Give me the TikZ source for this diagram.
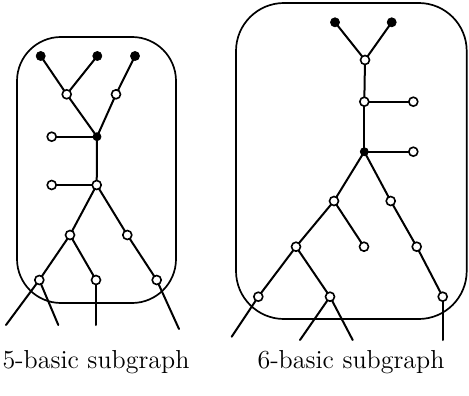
\documentclass[tikz,border=0pt]{standalone}
\usepackage{tkz-euclide}
\usetikzlibrary{calc}

\begin{document}
\begin{tikzpicture}[x=0.5pt,y=-0.5pt]
\tkzSetUpLine[line width=1pt,color=black]
\useasboundingbox (0,0) rectangle (469,395);

% 5-basic subgraph
\tkzDefPoints{40.7/56/U1,97.3/56/U2,135/56/U3,66.7/94.3/U4,116/94.3/U5,
  97/136.7/U6,51.7/136.7/U7,96.7/185/U8,51.7/185/U9,70/235/U10,
  127.3/235/U11,39.3/280/U12,96/280/U13,156.7/280/U14}
\tkzDefPoints{6/325/X1,58.3/325/X2,96/325/X3,179/329/X4}

% 6-basic subgraph
\tkzDefPoints{335/22.3/V1,391.7/22.3/V2,365/60/V3,364.3/101.7/V4,
  413.3/101.7/V5,364.3/151.7/V6,413.3/151.7/V7,334/201/V8,390.7/201/V9,
  296/246.7/V10,364/246.7/V11,416.7/246.7/V12,258.3/296.7/V13,
  330/296.7/V14,442.7/296.7/V15}
\tkzDefPoints{231.7/336.7/Y1,300/340/Y2,352.7/340/Y3,442.7/340/Y4}

\draw[line width=0.85pt,rounded corners=22pt] (17,37) rectangle (176,303);
\draw[line width=0.85pt,rounded corners=24pt] (236,3) rectangle (466.7,319);

\tkzDrawSegments(U1,U4 U2,U4 U4,U6 U3,U5 U5,U6 U6,U7 U6,U8 U8,U9)
\tkzDrawSegments(U8,U10 U8,U11 U10,U12 U10,U13 U11,U14)
\tkzDrawSegments(U12,X1 U12,X2 U13,X3 U14,X4)

\tkzDrawSegments(V1,V3 V2,V3 V3,V4 V4,V5 V4,V6 V6,V7 V6,V8 V6,V9)
\tkzDrawSegments(V8,V10 V8,V11 V10,V13 V10,V14 V9,V12 V12,V15)
\tkzDrawSegments(V13,Y1 V14,Y2 V14,Y3 V15,Y4)

\tkzDrawPoints[fill=black,size=4.5](U1,U2,U3,V1,V2)
\tkzDrawPoints[fill=black,size=4](U6,V6)
\tkzDrawPoints[fill=white,size=4.5,line width=0.8pt](U4,U5,U7,U8,U9,U10,U11,U12,U13,U14)
\tkzDrawPoints[fill=white,size=4.5,line width=0.8pt](V3,V4,V5,V7,V8,V9,V10,V11,V12,V13,V14,V15)

\node[font=\fontsize{13}{15}\selectfont] (cap5) at (96,362) {5-basic subgraph};
\node[font=\fontsize{13}{15}\selectfont] (cap6) at (351,362) {6-basic subgraph};

\end{tikzpicture}
\end{document}
